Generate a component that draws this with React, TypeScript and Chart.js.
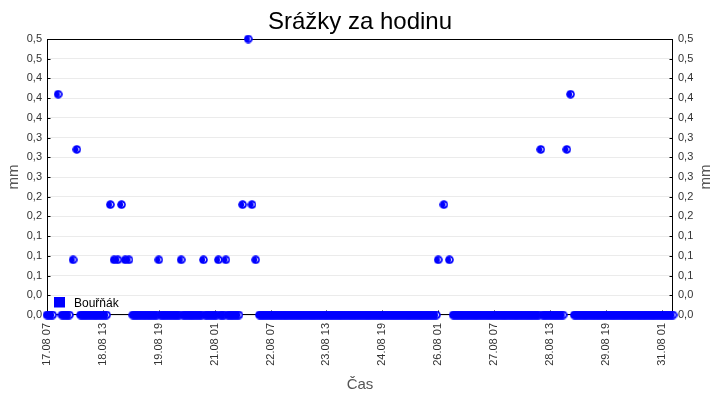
import { useEffect, useRef } from "react";
import { Chart, registerables } from "chart.js";

Chart.register(...registerables);

// hourly readings, hour 0 = 17.08 07:00, last reading 31.08 07:00
const firstHour = 0;
const lastHour = 336;

// hours with rain and the amount (mm)
const rainHours = [6, 14, 16, 34, 36, 38, 40, 42, 44, 60, 72, 84, 92, 96, 105, 108, 110, 112, 210, 213, 216, 265, 279, 281];
const rainValues = [0.4, 0.1, 0.3, 0.2, 0.1, 0.1, 0.2, 0.1, 0.1, 0.1, 0.1, 0.1, 0.1, 0.1, 0.2, 0.5, 0.2, 0.1, 0.1, 0.2, 0.1, 0.3, 0.3, 0.4];
// hours without any reading
const missingHours = [4, 5, 7, 13, 15, 17, 33, 35, 37, 39, 41, 43, 45, 104, 106, 107, 109, 111, 113, 211, 212, 214, 215, 217, 278, 280, 282];

const xTickHours = [0, 30, 60, 90, 120, 150, 180, 210, 240, 270, 300, 330];
const xTickLabels = ["17.08 07", "18.08 13", "19.08 19", "21.08 01", "22.08 07", "23.08 13", "24.08 19", "26.08 01", "27.08 07", "28.08 13", "29.08 19", "31.08 01"];
const yTickLabels = ["0,0", "0,0", "0,1", "0,1", "0,1", "0,2", "0,2", "0,3", "0,3", "0,3", "0,4", "0,4", "0,4", "0,5", "0,5"];

const FONT = "'Liberation Sans', Arial, sans-serif";
const seriesName = "Bouřňák";

function makeDot() {
  const c = document.createElement("canvas");
  c.width = 9;
  c.height = 9;
  const g = c.getContext("2d")!;
  g.fillStyle = "#0000ff";
  g.beginPath();
  g.arc(4.5, 4.5, 4.3, 0, Math.PI * 2);
  g.fill();
  g.strokeStyle = "#ffffff";
  g.lineWidth = 1;
  g.beginPath();
  g.arc(4.5, 4.5, 2.2, -1.0, 1.0);
  g.stroke();
  return c;
}

const framePlugin = {
  id: "frame",
  beforeDatasetsDraw(chart: any) {
    const { ctx, chartArea: ca, scales } = chart;
    const l = Math.round(ca.left) + 0.5;
    const r = Math.round(ca.right) - 0.5;
    const t = Math.round(ca.top) + 0.5;
    const b = Math.round(ca.bottom) - 0.5;
    ctx.save();
    ctx.strokeStyle = "#000";
    ctx.lineWidth = 1;
    ctx.strokeRect(l, t, r - l, b - t);
    ctx.beginPath();
    scales.y.ticks.forEach((tk: any) => {
      const y = Math.round(scales.y.getPixelForValue(tk.value)) + 0.5;
      ctx.moveTo(l, y);
      ctx.lineTo(l + 3, y);
      ctx.moveTo(r, y);
      ctx.lineTo(r - 3, y);
    });
    scales.x.ticks.forEach((tk: any) => {
      const x = Math.round(scales.x.getPixelForValue(tk.value)) + 0.5;
      ctx.moveTo(x, b);
      ctx.lineTo(x, b - 4);
    });
    ctx.stroke();
    ctx.restore();
  },
  afterDatasetsDraw(chart: any) {
    const { ctx, chartArea: ca, width } = chart;
    ctx.save();
    // legend inside the plot
    ctx.fillStyle = "#0000ff";
    ctx.fillRect(ca.left + 7, ca.bottom - 18, 11, 10.5);
    ctx.fillStyle = "#000";
    ctx.font = `12px ${FONT}`;
    ctx.textAlign = "left";
    ctx.textBaseline = "alphabetic";
    ctx.fillText(seriesName, ca.left + 27, ca.bottom - 8);
    // right axis title, same rotation as the left one
    ctx.translate(width - 14, (ca.top + ca.bottom) / 2);
    ctx.rotate(-Math.PI / 2);
    ctx.fillStyle = "#555";
    ctx.font = `15px ${FONT}`;
    ctx.textAlign = "center";
    ctx.textBaseline = "middle";
    ctx.fillText("mm", 0, 0);
    ctx.restore();
  },
};

function RainChart() {
  const canvasRef = useRef<HTMLCanvasElement>(null);

  useEffect(() => {
    const canvas = canvasRef.current;
    if (!canvas) return;

    const points: { x: number; y: number }[] = [];
    for (let h = firstHour; h <= lastHour; h++) {
      if (missingHours.includes(h)) continue;
      const i = rainHours.indexOf(h);
      points.push({ x: h, y: i >= 0 ? rainValues[i] : 0 });
    }

    const tickFont = { family: FONT, size: 11 };
    const yTicks = {
      count: 15,
      autoSkip: false,
      padding: 5,
      color: "#333",
      font: tickFont,
      callback: (_v: any, i: number) => yTickLabels[i],
    };

    const chart = new Chart(canvas, {
      type: "scatter",
      data: {
        datasets: [
          {
            label: seriesName,
            data: points,
            pointStyle: makeDot(),
            pointRadius: 4,
            showLine: false,
            clip: false,
          } as any,
        ],
      },
      options: {
        responsive: false,
        animation: false,
        events: [],
        layout: { padding: 0 },
        plugins: {
          legend: { display: false },
          tooltip: { enabled: false },
          title: {
            display: true,
            text: "Srážky za hodinu",
            color: "#000",
            font: { family: FONT, size: 24, weight: "normal" },
            padding: { top: 8, bottom: 2.2 },
          },
        },
        scales: {
          x: {
            type: "linear",
            min: firstHour,
            max: lastHour,
            afterBuildTicks: (s: any) => {
              s.ticks = xTickHours.map((v) => ({ value: v }));
            },
            ticks: {
              autoSkip: false,
              minRotation: 90,
              maxRotation: 90,
              padding: 8,
              color: "#333",
              font: tickFont,
              callback: (_v: any, i: number) => xTickLabels[i],
            },
            grid: { display: false, drawTicks: false },
            border: { display: false },
            title: {
              display: true,
              text: "Čas",
              color: "#555",
              font: { family: FONT, size: 15 },
              padding: { top: 0, bottom: 6 },
            },
            afterFit: (s: any) => {
              s.height = 85;
            },
          },
          y: {
            position: "left",
            min: 0,
            max: 0.5,
            ticks: yTicks,
            grid: { color: "#ebebeb", drawTicks: false },
            border: { display: false },
            title: {
              display: true,
              text: "mm",
              color: "#555",
              font: { family: FONT, size: 15 },
              padding: { top: 5, bottom: 0 },
            },
            afterFit: (s: any) => {
              s.width = 47;
            },
          },
          y2: {
            position: "right",
            min: 0,
            max: 0.5,
            ticks: yTicks,
            grid: { display: false, drawTicks: false },
            border: { display: false },
            afterFit: (s: any) => {
              s.width = 47;
            },
          },
        },
      } as any,
      plugins: [framePlugin],
    });
    return () => chart.destroy();
  }, []);

  return <canvas ref={canvasRef} width={720} height={400} style={{ display: "block" }}></canvas>;
}

export default function App() {
  return (
    <div style={{ position: "absolute", left: 0, top: 0, width: 720, height: 400, background: "#fff" }}>
      <RainChart />
    </div>
  );
}
